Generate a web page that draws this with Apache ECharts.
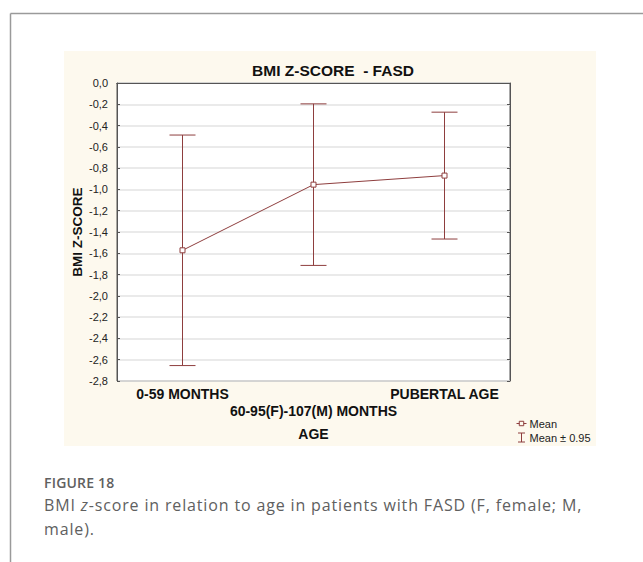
<!DOCTYPE html>
<html>
<head>
<meta charset="utf-8">
<script src="https://cdn.jsdelivr.net/npm/echarts@6/dist/echarts.min.js"></script>
<style>
html,body{margin:0;padding:0;background:#fff;}
#wrap{position:relative;width:643px;height:562px;overflow:hidden;}
#chart{position:absolute;left:0;top:0;width:643px;height:562px;}
#cap{position:absolute;left:44px;top:473px;width:590px;font-family:"Open Sans",sans-serif;color:#606060;}
#cap .fig{font-size:14px;font-weight:600;letter-spacing:0.2px;line-height:20px;}
#cap .txt{font-size:16px;letter-spacing:0.85px;line-height:23.5px;margin-top:1px;}
</style>
</head>
<body>
<div id="wrap">
<div id="chart"></div>
<div id="cap">
  <div class="fig">FIGURE 18</div>
  <div class="txt">BMI <i>z</i>-score in relation to age in patients with FASD (F, female; M,<br>male).</div>
</div>
</div>
<script>
// ---- data ----
var categories = ['0-59 MONTHS', '60-95(F)-107(M) MONTHS', 'PUBERTAL AGE'];
var meanValues = [-1.572, -0.955, -0.870];
var lowerValues = [-2.655, -1.714, -1.466];
var upperValues = [-0.489, -0.196, -0.274];
var yTicks = { min: -2.8, max: 0, interval: 0.2 };

var C = '#8e3e3e';
var FONT = '"Liberation Sans", Arial, sans-serif';

var errData = categories.map(function (c, i) { return [i, lowerValues[i], upperValues[i]]; });

var chart = echarts.init(document.getElementById('chart'), null, { renderer: 'svg' });

function fmt(v) { return (Math.round(v * 10) / 10).toFixed(1).replace('.', ',').replace('-0,0', '0,0'); }

var option = {
  animation: false,
  backgroundColor: 'transparent',
  textStyle: { fontFamily: FONT },
  title: {
    text: 'BMI Z-SCORE  - FASD',
    left: 328, top: 57, textAlign: 'center',
    textStyle: { fontFamily: FONT, fontSize: 15.5, fontWeight: 'bold', color: '#111' }
  },
  graphic: [
    { type: 'rect', z: -10, shape: { x: 64, y: 51, width: 532, height: 395 }, style: { fill: '#fdf9ee' } },
    { type: 'line', shape: { x1: 10.5, y1: 13.5, x2: 643, y2: 13.5 }, style: { stroke: '#9a9a9a', lineWidth: 1.5 } },
    { type: 'line', shape: { x1: 10.5, y1: 13.5, x2: 10.5, y2: 562 }, style: { stroke: '#9a9a9a', lineWidth: 1.5 } }
  ],
  legend: {
    orient: 'vertical', left: 511, top: 413, itemGap: 3, itemWidth: 10, itemHeight: 9,
    textStyle: { fontFamily: FONT, fontSize: 11, color: '#222', padding: [0, 0, 0, -2] },
    data: [
      { name: 'Mean', icon: 'path://M0,4.5H2.5M2.5,2.5H6.5V6.5H2.5ZM6.5,4.5H9', itemStyle: { color: 'transparent', borderColor: C, borderWidth: 1 } },
      { name: 'Mean ± 0.95', icon: 'path://M1,0H8M4.5,0V9M1,9H8', itemStyle: { color: 'transparent', borderColor: C, borderWidth: 1 } }
    ]
  },
  grid: { left: 117, right: 133, top: 83, bottom: 181, show: true, backgroundColor: '#fff', borderColor: '#555', borderWidth: 1 },
  xAxis: [
    {
      type: 'category', data: categories, boundaryGap: true, position: 'bottom',
      name: 'AGE', nameLocation: 'middle', nameGap: 46, nameMoveOverlap: false,
      nameTextStyle: { fontFamily: FONT, fontSize: 14, fontWeight: 'bold', color: '#111' },
      axisLine: { lineStyle: { color: '#555' } },
      axisTick: { alignWithLabel: true, inside: true, length: 3, lineStyle: { color: '#555' } },
      axisLabel: {
        margin: 5, fontFamily: FONT, fontSize: 14, fontWeight: 'bold', color: '#111', lineHeight: 16.7, interval: 0,
        formatter: function (v, i) { return i === 1 ? '\n' + v : v; }
      }
    },
    {
      type: 'category', data: categories, boundaryGap: true, position: 'top',
      axisLine: { lineStyle: { color: '#555' } },
      axisTick: { alignWithLabel: true, inside: true, length: 3, lineStyle: { color: '#555' } },
      axisLabel: { show: false }
    }
  ],
  yAxis: [
    {
      type: 'value', min: yTicks.min, max: yTicks.max, interval: yTicks.interval,
      name: 'BMI Z-SCORE', nameLocation: 'middle', nameGap: 33, nameRotate: 90, nameMoveOverlap: false,
      nameTextStyle: { fontFamily: FONT, fontSize: 13.5, fontWeight: 'bold', color: '#111' },
      axisLine: { show: true, lineStyle: { color: '#555' } },
      axisTick: { show: true, inside: true, length: 3, lineStyle: { color: '#555' } },
      axisLabel: { margin: 9, fontFamily: FONT, fontSize: 11, color: '#222', formatter: fmt },
      splitLine: { show: true, lineStyle: { color: '#e3e3e3', width: 1.5 } }
    },
    {
      type: 'value', min: yTicks.min, max: yTicks.max, interval: yTicks.interval, position: 'right',
      axisLine: { show: true, lineStyle: { color: '#555' } },
      axisTick: { show: true, inside: true, length: 3, lineStyle: { color: '#555' } },
      axisLabel: { show: false },
      splitLine: { show: false }
    }
  ],
  series: [
    {
      name: 'Mean ± 0.95', type: 'custom', xAxisIndex: 0, yAxisIndex: 0, z: 3,
      data: errData,
      renderItem: function (params, api) {
        var x = api.value(0);
        var lo = api.coord([x, api.value(1)]);
        var hi = api.coord([x, api.value(2)]);
        var hw = 13;
        var st = { stroke: C, lineWidth: 1, fill: null };
        return {
          type: 'group',
          children: [
            { type: 'line', shape: { x1: hi[0], y1: hi[1], x2: lo[0], y2: lo[1] }, style: st },
            { type: 'line', shape: { x1: hi[0] - hw, y1: hi[1], x2: hi[0] + hw, y2: hi[1] }, style: st },
            { type: 'line', shape: { x1: lo[0] - hw, y1: lo[1], x2: lo[0] + hw, y2: lo[1] }, style: st }
          ]
        };
      }
    },
    {
      name: 'Mean', type: 'line', xAxisIndex: 0, yAxisIndex: 0, z: 4,
      data: meanValues,
      symbol: 'rect', symbolSize: 5,
      itemStyle: { color: '#fff', borderColor: C, borderWidth: 1 },
      lineStyle: { color: C, width: 1 }
    }
  ]
};
chart.setOption(option);
</script>
</body>
</html>
